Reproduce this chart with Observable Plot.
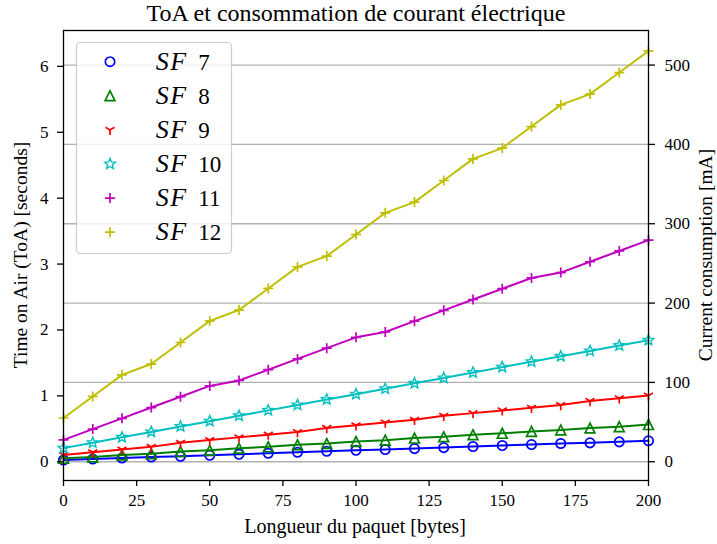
<!DOCTYPE html>
<html>
<head>
<meta charset="utf-8">
<script src="https://cdn.jsdelivr.net/npm/d3@7"></script>
<script src="https://cdn.jsdelivr.net/npm/@observablehq/plot@0.6"></script>
<style>
  body { margin: 0; background: #fff; }
  svg { display: block; }
</style>
</head>
<body>
<div id="chart"></div>
<script>
// Packet length (bytes)
const packetBytes = [0, 10, 20, 30, 40, 50, 60, 70, 80, 90, 100, 110, 120, 130, 140, 150, 160, 170, 180, 190, 200];

// Time on Air (seconds) per spreading factor
const toaSF7  = [0.026, 0.041, 0.057, 0.072, 0.082, 0.098, 0.113, 0.128, 0.144, 0.159, 0.174, 0.185, 0.200, 0.215, 0.231, 0.246, 0.261, 0.277, 0.287, 0.302, 0.318];
const toaSF8  = [0.052, 0.072, 0.103, 0.123, 0.154, 0.175, 0.205, 0.226, 0.257, 0.277, 0.308, 0.328, 0.359, 0.379, 0.410, 0.431, 0.461, 0.482, 0.513, 0.533, 0.564];
const toaSF9  = [0.103, 0.144, 0.185, 0.226, 0.288, 0.329, 0.370, 0.411, 0.452, 0.513, 0.554, 0.595, 0.636, 0.697, 0.738, 0.779, 0.820, 0.861, 0.923, 0.964, 1.005];
const toaSF10 = [0.207, 0.289, 0.371, 0.453, 0.535, 0.616, 0.698, 0.780, 0.862, 0.944, 1.026, 1.108, 1.190, 1.272, 1.354, 1.436, 1.518, 1.600, 1.681, 1.763, 1.845];
const toaSF11 = [0.332, 0.496, 0.659, 0.823, 0.987, 1.151, 1.233, 1.397, 1.561, 1.724, 1.888, 1.970, 2.134, 2.298, 2.462, 2.626, 2.789, 2.871, 3.035, 3.199, 3.363];
const toaSF12 = [0.664, 0.991, 1.319, 1.483, 1.810, 2.138, 2.302, 2.630, 2.957, 3.121, 3.449, 3.777, 3.940, 4.268, 4.596, 4.760, 5.087, 5.415, 5.579, 5.906, 6.234];

const sfLabels = ["7", "8", "9", "10", "11", "12"];
const sfColors = ["#0000ff", "#008000", "#ff0000", "#00bfbf", "#bf00bf", "#bfbf00"];

// Tick values
const xTicks = [0, 25, 50, 75, 100, 125, 150, 175, 200];
const secondTicks = [0, 1, 2, 3, 4, 5, 6];
const currentTicks = [0, 100, 200, 300, 400, 500]; // mA

// Right axis shares the frame: seconds per mA on the twin scale
const secondsPerMilliamp = 0.01204;

// Marker shapes (radius derived from the symbol area Plot passes in)
const rad = (size) => Math.sqrt(size / Math.PI);
const circleMarker = { draw(ctx, size) { const r = rad(size); ctx.moveTo(r, 0); ctx.arc(0, 0, r, 0, 2 * Math.PI); ctx.closePath(); } };
const triangleUpMarker = { draw(ctx, size) { const r = rad(size); ctx.moveTo(0, -r); ctx.lineTo(-r, r); ctx.lineTo(r, r); ctx.closePath(); } };
const triDownMarker = { draw(ctx, size) { const r = rad(size); ctx.moveTo(0, 0); ctx.lineTo(0, r); ctx.moveTo(0, 0); ctx.lineTo(-r * 0.866, -r * 0.5); ctx.moveTo(0, 0); ctx.lineTo(r * 0.866, -r * 0.5); } };
const starMarker = { draw(ctx, size) { const r = rad(size); for (let i = 0; i < 10; i++) { const a = i * Math.PI / 5; const rr = i % 2 ? r * 0.45 : r; const x = rr * Math.sin(a), y = -rr * Math.cos(a); if (i) ctx.lineTo(x, y); else ctx.moveTo(x, y); } ctx.closePath(); } };
const plusMarker = { draw(ctx, size) { const r = rad(size); ctx.moveTo(-r, 0); ctx.lineTo(r, 0); ctx.moveTo(0, -r); ctx.lineTo(0, r); } };
const sfMarkers = [circleMarker, triangleUpMarker, triDownMarker, starMarker, plusMarker, plusMarker];
const sfMarkerR = [4.7, 4.9, 5.2, 5.6, 5.0, 5.0];
const sfMarkerW = [1.7, 1.7, 1.7, 1.4, 1.7, 1.7];

const toaSeries = [toaSF7, toaSF8, toaSF9, toaSF10, toaSF11, toaSF12];
const rows = toaSeries.map((vals, s) => packetBytes.map((b, i) => ({ bytes: b, toa: vals[i] })));

const font = "Liberation Serif, Times New Roman, serif";

const seriesMarks = rows.flatMap((data, s) => [
  Plot.line(data, { x: "bytes", y: "toa", stroke: sfColors[s], strokeWidth: 2 }),
  Plot.dot(data, { x: "bytes", y: "toa", symbol: sfMarkers[s], r: sfMarkerR[s], stroke: sfColors[s], fill: "none", strokeWidth: sfMarkerW[s] })
]);

const chart = Plot.plot({
  width: 717,
  height: 544,
  marginTop: 30,
  marginBottom: 64,
  marginLeft: 63,
  marginRight: 69,
  style: { fontFamily: font, fontSize: "17px", background: "#fff", color: "#000" },
  x: { domain: [0, 200] },
  y: { domain: [-0.2844, 6.5444] },
  marks: [
    Plot.ruleY(currentTicks.map(v => v * secondsPerMilliamp), { stroke: "#b0b0b0", strokeWidth: 1.3 }),
    ...seriesMarks,
    Plot.frame({ stroke: "#000", strokeWidth: 1.3 }),
    Plot.axisX({ ticks: xTicks, tickSize: 6, tickPadding: 7, tickFormat: d => String(d), label: null, strokeWidth: 1.3 }),
    Plot.axisY({ anchor: "left", ticks: secondTicks, tickSize: 6, tickPadding: 9, tickFormat: d => String(d), label: null, strokeWidth: 1.3 }),
    Plot.axisY({ anchor: "right", ticks: currentTicks.map(v => v * secondsPerMilliamp), tickSize: 6, tickPadding: 10,
      tickFormat: d => String(Math.round(d / secondsPerMilliamp)), label: null, strokeWidth: 1.3 })
  ]
});

document.getElementById("chart").appendChild(chart);

const svg = d3.select(chart);

// Title and axis labels
svg.append("text").attr("x", 356).attr("y", 21).attr("text-anchor", "middle")
  .attr("font-size", 24).attr("fill", "#000")
  .text("ToA et consommation de courant électrique");
svg.append("text").attr("x", 355).attr("y", 533).attr("text-anchor", "middle")
  .attr("font-size", 20).attr("fill", "#000")
  .text("Longueur du paquet [bytes]");
svg.append("text").attr("transform", "translate(27,255) rotate(-90)").attr("text-anchor", "middle")
  .attr("font-size", 19.5).attr("fill", "#000")
  .text("Time on Air (ToA) [seconds]");
svg.append("text").attr("transform", "translate(712,255) rotate(-90)").attr("text-anchor", "middle")
  .attr("font-size", 19.5).attr("fill", "#000")
  .text("Current consumption [mA]");

// Legend
const legend = svg.append("g").attr("text-anchor", "start");
legend.append("rect").attr("x", 76.5).attr("y", 42.5).attr("width", 155).attr("height", 211).attr("rx", 4)
  .attr("fill", "#fff").attr("fill-opacity", 0.8).attr("stroke", "#cccccc").attr("stroke-width", 1.2);
sfLabels.forEach((lab, s) => {
  const cy = 61.7 + s * 34.1;
  legend.append("path").attr("transform", `translate(110,${cy})`)
    .attr("d", d3.symbol(sfMarkers[s], Math.PI * sfMarkerR[s] ** 2)())
    .attr("fill", "none").attr("stroke", sfColors[s]).attr("stroke-width", sfMarkerW[s]);
  const t = legend.append("text").attr("y", cy + 8).attr("fill", "#000").attr("text-anchor", "start");
  t.append("tspan").attr("x", 155.7).attr("font-style", "italic").attr("font-size", 26).attr("letter-spacing", 1.5).text("SF");
  t.append("tspan").attr("x", 198.3).attr("font-size", 23).text(lab);
});

// Serif face on every label, tick and legend entry
svg.selectAll("text").attr("font-family", font);
</script>
</body>
</html>
